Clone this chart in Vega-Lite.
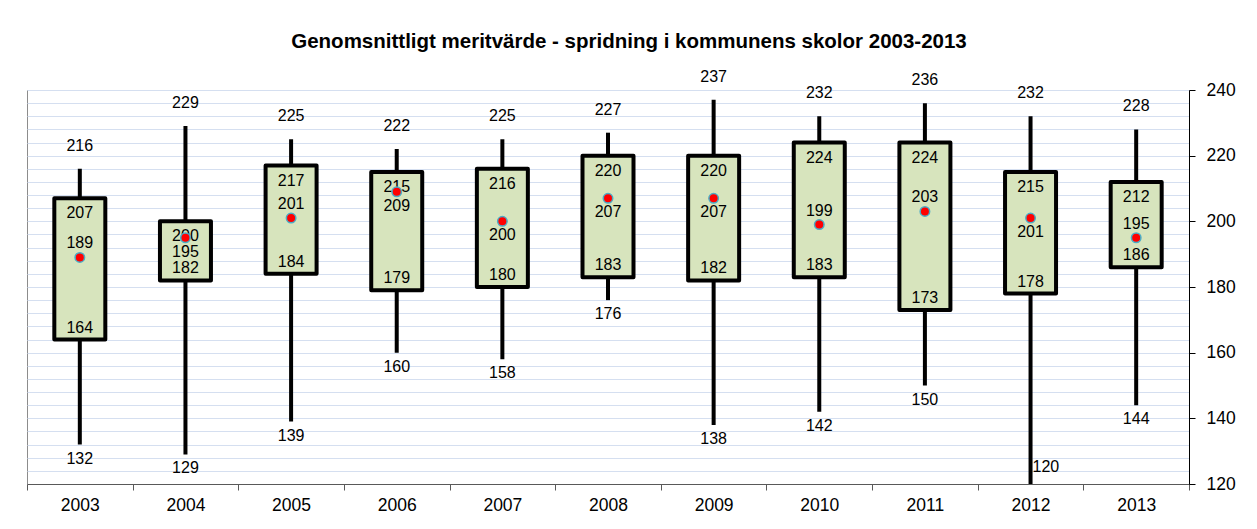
{
  "$schema": "https://vega.github.io/schema/vega-lite/v6.json",
  "width": 1162,
  "height": 394,
  "autosize": {"type": "none"},
  "padding": {"left": 27, "top": 90, "right": 68, "bottom": 45},
  "background": "white",
  "config": {
    "font": "Liberation Sans",
    "view": {"stroke": "#8c8c8c", "strokeWidth": 1},
    "text": {"font": "Liberation Sans", "fontSize": 16, "color": "black", "baseline": "middle", "align": "center"}
  },
  "title": {
    "text": "Genomsnittligt meritvärde - spridning i kommunens skolor 2003-2013",
    "font": "Liberation Sans",
    "fontSize": 20.5,
    "fontWeight": "bold",
    "color": "black",
    "anchor": "middle",
    "dx": 21,
    "offset": 16
  },
  "data": {
    "values": [
      {"year": "2003", "min": 132, "q1": 164, "mean": 189, "q3": 207, "max": 216},
      {"year": "2004", "min": 129, "q1": 182, "mean": 195, "q3": 200, "max": 229},
      {"year": "2005", "min": 139, "q1": 184, "mean": 201, "q3": 217, "max": 225},
      {"year": "2006", "min": 160, "q1": 179, "mean": 209, "q3": 215, "max": 222},
      {"year": "2007", "min": 158, "q1": 180, "mean": 200, "q3": 216, "max": 225},
      {"year": "2008", "min": 176, "q1": 183, "mean": 207, "q3": 220, "max": 227},
      {"year": "2009", "min": 138, "q1": 182, "mean": 207, "q3": 220, "max": 237},
      {"year": "2010", "min": 142, "q1": 183, "mean": 199, "q3": 224, "max": 232},
      {"year": "2011", "min": 150, "q1": 173, "mean": 203, "q3": 224, "max": 236},
      {"year": "2012", "min": 120, "q1": 178, "mean": 201, "q3": 215, "max": 232},
      {"year": "2013", "min": 144, "q1": 186, "mean": 195, "q3": 212, "max": 228}
    ]
  },
  "encoding": {
    "x": {
      "field": "year",
      "type": "ordinal",
      "scale": {"paddingInner": 0, "paddingOuter": 0},
      "axis": {
        "title": null,
        "labelAngle": 0,
        "tickBand": "extent",
        "tickSize": 6,
        "tickColor": "#595959",
        "domainColor": "#595959",
        "labelFont": "Liberation Sans",
        "labelFontSize": 17.5,
        "labelColor": "black",
        "labelPadding": 6,
        "grid": false
      }
    }
  },
  "layer": [
    {
      "mark": {"type": "rule", "strokeWidth": 4, "color": "black"},
      "encoding": {
        "y": {
          "field": "min",
          "type": "quantitative",
          "scale": {"domain": [120, 240], "nice": false, "zero": false},
          "axis": {
            "orient": "right",
            "title": null,
            "values": [120, 124, 128, 132, 136, 140, 144, 148, 152, 156, 160, 164, 168, 172, 176, 180, 184, 188, 192, 196, 200, 204, 208, 212, 216, 220, 224, 228, 232, 236, 240],
            "tickCount": 100,
            "grid": true,
            "gridColor": "#d5dff0",
            "gridWidth": 1,
            "tickColor": {"condition": {"test": "datum.value % 20 === 0", "value": "black"}, "value": "transparent"},
            "labelExpr": "datum.value % 20 === 0 ? datum.label : ''",
            "tickSize": 6,
            "domainColor": "black",
            "labelFont": "Liberation Sans",
            "labelFontSize": 17.5,
            "labelColor": "black",
            "labelPadding": 11,
            "labelFlush": false,
            "labelOverlap": false
          }
        },
        "y2": {"field": "max"}
      }
    },
    {
      "mark": {"type": "bar", "size": 51, "fill": "#d7e4bd", "stroke": "black", "strokeWidth": 4, "strokeJoin": "round"},
      "encoding": {
        "y": {"field": "q1", "type": "quantitative"},
        "y2": {"field": "q3"}
      }
    },
    {
      "mark": {"type": "text", "dy": -23},
      "encoding": {"y": {"field": "max", "type": "quantitative"}, "text": {"field": "max"}}
    },
    {
      "mark": {"type": "text", "dy": 15},
      "encoding": {"y": {"field": "q3", "type": "quantitative"}, "text": {"field": "q3"}}
    },
    {
      "mark": {"type": "text", "dy": -12},
      "encoding": {"y": {"field": "q1", "type": "quantitative"}, "text": {"field": "q1"}}
    },
    {
      "transform": [{"filter": {"field": "year", "oneOf": ["2003", "2005", "2010", "2011", "2013"]}}],
      "mark": {"type": "text", "dy": -14},
      "encoding": {"y": {"field": "mean", "type": "quantitative"}, "text": {"field": "mean"}}
    },
    {
      "transform": [{"filter": {"field": "year", "oneOf": ["2004", "2006", "2007", "2008", "2009", "2012"]}}],
      "mark": {"type": "text", "dy": 14},
      "encoding": {"y": {"field": "mean", "type": "quantitative"}, "text": {"field": "mean"}}
    },
    {
      "transform": [{"filter": "datum.year !== '2012'"}],
      "mark": {"type": "text", "dy": 14},
      "encoding": {"y": {"field": "min", "type": "quantitative"}, "text": {"field": "min"}}
    },
    {
      "transform": [{"filter": "datum.year === '2012'"}],
      "mark": {"type": "text", "dy": -17, "dx": 2, "align": "left"},
      "encoding": {"y": {"field": "min", "type": "quantitative"}, "text": {"field": "min"}}
    },
    {
      "mark": {"type": "point", "filled": true, "shape": "circle", "fill": "#ff0000", "stroke": "#4bacc6", "strokeWidth": 1.5, "size": 90, "opacity": 1},
      "encoding": {"y": {"field": "mean", "type": "quantitative"}}
    }
  ]
}
